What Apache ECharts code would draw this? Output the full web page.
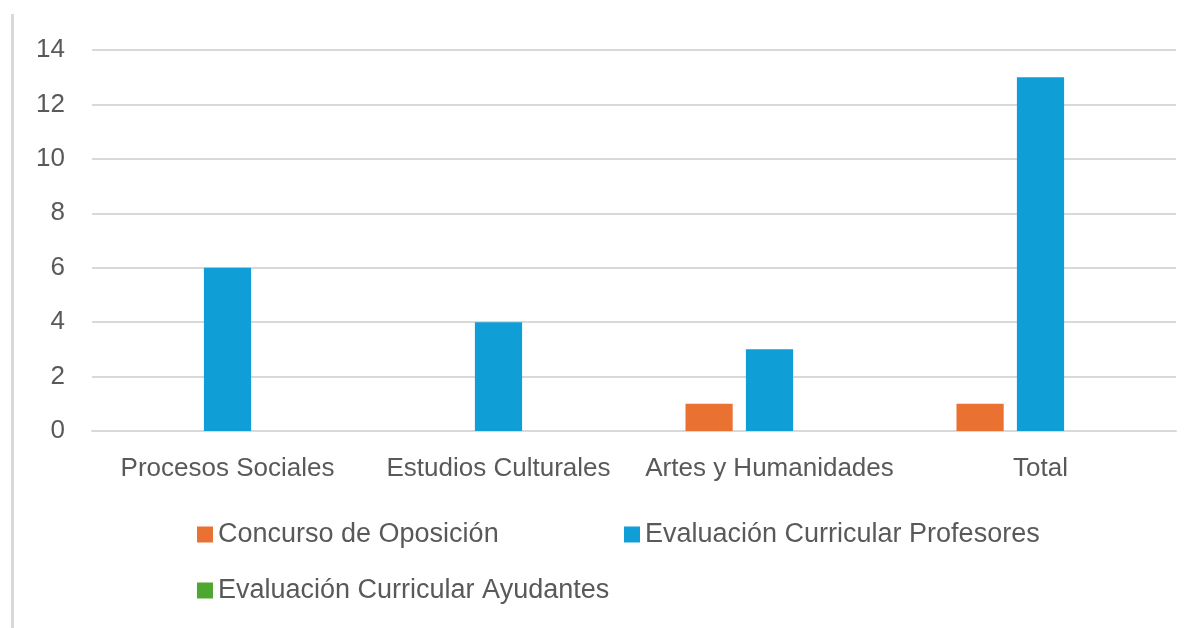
<!DOCTYPE html>
<html>
<head>
<meta charset="utf-8">
<script src="https://cdn.jsdelivr.net/npm/echarts@6/dist/echarts.min.js"></script>
<style>
  html, body { margin: 0; padding: 0; background: #fff; }
  #chart { width: 1201px; height: 628px; }
</style>
</head>
<body>
<div id="chart"></div>
<script>
  const categories = ['Procesos Sociales', 'Estudios Culturales', 'Artes y Humanidades', 'Total']
  const seriesNames = ['Concurso de Oposición', 'Evaluación Curricular Profesores', 'Evaluación Curricular Ayudantes']
  const concurso = [0, 0, 1, 1]
  const profesores = [6, 4, 3, 13]
  const ayudantes = [0, 0, 0, 0]
  const colors = ['#e97132', '#0f9ed5', '#4ea72e']

  const chart = echarts.init(document.getElementById('chart'))
  const font = '"Liberation Sans", "DejaVu Sans", sans-serif'
  const legendText = { color: '#595959', fontSize: 27, fontFamily: font }

  // each legend entry placed by hand, like the original two-row layout
  const legendAt = (name, left, top) => ({
    data: [name], left: left, top: top, itemWidth: 16, itemHeight: 16,
    icon: 'rect', itemGap: 8, textStyle: legendText, padding: 0
  })

  chart.setOption({
    animation: false,
    grid: { left: 92, right: 25, top: 50, bottom: 197 },
    legend: [
      legendAt(seriesNames[0], 197, 521),
      legendAt(seriesNames[1], 624, 521),
      legendAt(seriesNames[2], 197, 577)
    ],
    xAxis: {
      type: 'category',
      data: categories,
      axisLine: { lineStyle: { color: '#d9d9d9', width: 2 } },
      axisTick: { show: false },
      axisLabel: { color: '#595959', fontSize: 26, fontFamily: font, margin: 25, interval: 0 }
    },
    yAxis: {
      type: 'value',
      min: 0, max: 14, interval: 2,
      axisLine: { show: false },
      axisTick: { show: false },
      splitLine: { lineStyle: { color: '#d9d9d9', width: 2 } },
      axisLabel: { color: '#595959', fontSize: 26, fontFamily: font, margin: 27 }
    },
    graphic: [{
      type: 'rect',
      shape: { x: 11, y: 14, width: 3, height: 614 },
      style: { fill: '#d9d9d9' }
    }],
    series: [
      { name: seriesNames[0], type: 'bar', data: concurso, itemStyle: { color: colors[0] }, barGap: '28%', barCategoryGap: '38%' },
      { name: seriesNames[1], type: 'bar', data: profesores, itemStyle: { color: colors[1] } },
      { name: seriesNames[2], type: 'bar', data: ayudantes, itemStyle: { color: colors[2] } }
    ]
  })
</script>
</body>
</html>
